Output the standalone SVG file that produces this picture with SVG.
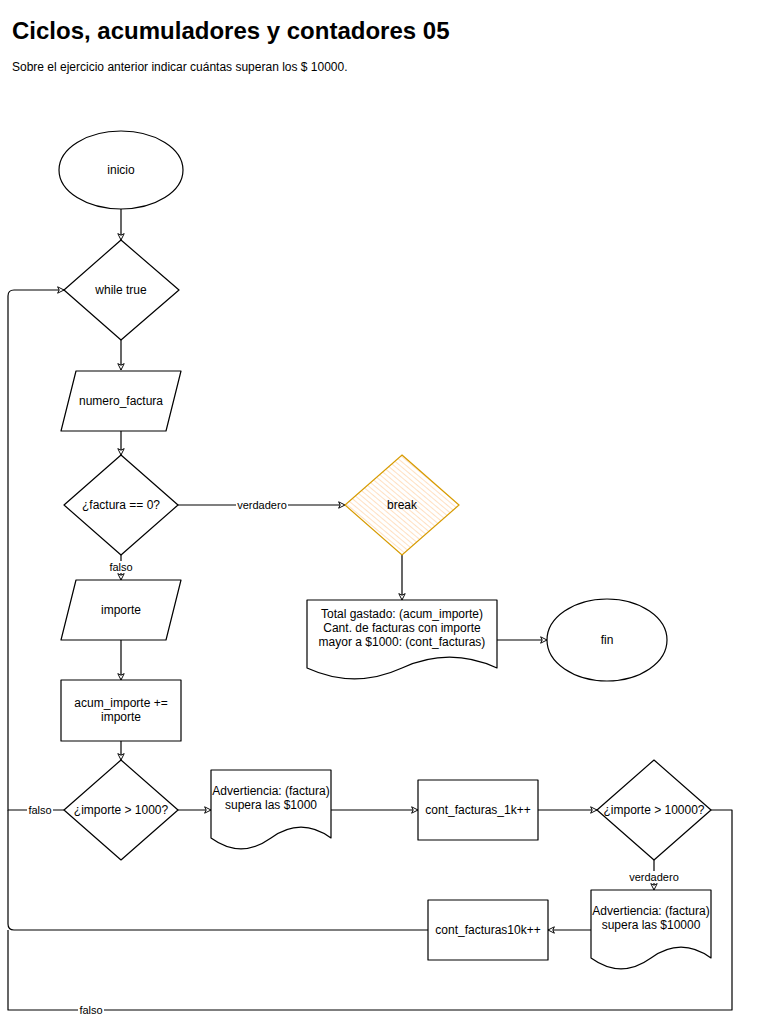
<svg xmlns="http://www.w3.org/2000/svg" width="768" height="1019" viewBox="0 0 768 1019">
  <style>
    .shape { fill: #ffffff; stroke: #000000; stroke-width: 1.2; stroke-linejoin: round; }
    .warn { fill: url(#hatch); stroke: #d79b00; stroke-width: 1.2; }
    .edge { fill: none; stroke: #000000; stroke-width: 1.2; stroke-linejoin: round; }
    .txt { font-family: "Liberation Sans", Arial, sans-serif; font-size: 12px; fill: #000000; text-anchor: middle; dominant-baseline: central; }
    .lbl { font-family: "Liberation Sans", Arial, sans-serif; font-size: 11px; fill: #000000; text-anchor: middle; dominant-baseline: central; }
    .lblbg { fill: #ffffff; stroke: none; }
  </style>
  <defs>
    <marker id="arrow" viewBox="0 0 10 10" refX="9" refY="5" markerWidth="8" markerHeight="8" markerUnits="userSpaceOnUse" orient="auto">
      <path d="M1,1 L9,5 L1,9 L3,5 Z" fill="#ffffff" stroke="#000000" stroke-width="1.2"/>
    </marker>
    <pattern id="hatch" width="4" height="4" patternUnits="userSpaceOnUse" patternTransform="rotate(-50)">
      <rect width="4" height="4" fill="#ffffff"/>
      <line x1="0" y1="0" x2="0" y2="4" stroke="#ffd9b3" stroke-width="1.6"/>
    </pattern>
  </defs>

  <rect width="768" height="1019" fill="#ffffff"/>

  <text x="12" y="30" font-family="'Liberation Sans', Arial, sans-serif" font-size="24" font-weight="bold" dominant-baseline="central">Ciclos, acumuladores y contadores 05</text>
  <text x="12" y="67" font-family="'Liberation Sans', Arial, sans-serif" font-size="12" dominant-baseline="central">Sobre el ejercicio anterior indicar cuántas superan los $ 10000.</text>

  <!-- connectors -->
  <g id="connectors">
    <path class="edge" d="M121,209 L121,240" marker-end="url(#arrow)"/>
    <path class="edge" d="M121,340 L121,370" marker-end="url(#arrow)"/>
    <path class="edge" d="M121,431 L121,455" marker-end="url(#arrow)"/>
    <path class="edge" d="M178,505 L345,505" marker-end="url(#arrow)"/>
    <path class="edge" d="M121,555 L121,580" marker-end="url(#arrow)"/>
    <path class="edge" d="M402,555 L402,600" marker-end="url(#arrow)"/>
    <path class="edge" d="M497,640 L547,640" marker-end="url(#arrow)"/>
    <path class="edge" d="M121,640 L121,680" marker-end="url(#arrow)"/>
    <path class="edge" d="M121,741 L121,760" marker-end="url(#arrow)"/>
    <path class="edge" d="M178,810 L211,810" marker-end="url(#arrow)"/>
    <path class="edge" d="M331,810 L418,810" marker-end="url(#arrow)"/>
    <path class="edge" d="M538,810 L597,810" marker-end="url(#arrow)"/>
    <path class="edge" d="M654,860 L654,890" marker-end="url(#arrow)"/>
    <path class="edge" d="M591,930 L548,930" marker-end="url(#arrow)"/>
    <!-- return paths to the loop head -->
    <path class="edge" d="M64,810 L8,810 L8,296 Q8,290 14,290 L64,290" marker-end="url(#arrow)"/>
    <path class="edge" d="M428,930 L14,930 Q8,930 8,924 L8,810"/>
    <path class="edge" d="M711,810 L732,810 L732,1010 L8,1010 L8,930"/>

    <rect class="lblbg" x="236" y="499" width="52" height="12"/>
    <text class="lbl" x="262" y="505">verdadero</text>
    <rect class="lblbg" x="108" y="561" width="26" height="12"/>
    <text class="lbl" x="121" y="567">falso</text>
    <rect class="lblbg" x="27" y="804" width="26" height="12"/>
    <text class="lbl" x="40" y="810">falso</text>
    <rect class="lblbg" x="628" y="871" width="52" height="12"/>
    <text class="lbl" x="654" y="877">verdadero</text>
    <rect class="lblbg" x="78" y="1004" width="26" height="12"/>
    <text class="lbl" x="91" y="1010">falso</text>
  </g>

  <g id="inicio">
    <ellipse class="shape" cx="121" cy="170" rx="62" ry="39"/>
    <text class="txt" x="121" y="170">inicio</text>
  </g>

  <g id="while-true">
    <path class="shape" d="M121,240 L179,290 L121,340 L64,290 Z"/>
    <text class="txt" x="121" y="290">while true</text>
  </g>

  <g id="numero-factura">
    <path class="shape" d="M76,371 L181,371 L166,431 L61,431 Z"/>
    <text class="txt" x="121" y="401">numero_factura</text>
  </g>

  <g id="factura-cero">
    <path class="shape" d="M121,455 L178,505 L121,555 L64,505 Z"/>
    <text class="txt" x="121" y="505">¿factura == 0?</text>
  </g>

  <g id="break">
    <path class="warn" d="M402,455 L459,505 L402,555 L345,505 Z"/>
    <text class="txt" x="402" y="505">break</text>
  </g>

  <g id="importe">
    <path class="shape" d="M76,580 L181,580 L166,640 L61,640 Z"/>
    <text class="txt" x="121" y="610">importe</text>
  </g>

  <g id="total-gastado">
    <path class="shape" d="M307,600 L497,600 L497,668 Q449.5,646.4 402,668 Q354.5,689.6 307,668 Z"/>
    <text class="txt" x="402" y="614">Total gastado: (acum_importe)</text>
    <text class="txt" x="402" y="628">Cant. de facturas con importe</text>
    <text class="txt" x="402" y="642">mayor a $1000: (cont_facturas)</text>
  </g>

  <g id="fin">
    <ellipse class="shape" cx="607" cy="640" rx="60" ry="41"/>
    <text class="txt" x="607" y="640">fin</text>
  </g>

  <g id="acum-importe">
    <rect class="shape" x="61" y="680" width="120" height="61"/>
    <text class="txt" x="121" y="703">acum_importe +=</text>
    <text class="txt" x="121" y="717">importe</text>
  </g>

  <g id="importe-1000">
    <path class="shape" d="M121,760 L178,810 L121,860 L64,810 Z"/>
    <text class="txt" x="121" y="810">¿importe &gt; 1000?</text>
  </g>

  <g id="advertencia-1000">
    <path class="shape" d="M211,770 L331,770 L331,838 Q301,816.4 271,838 Q241,859.6 211,838 Z"/>
    <text class="txt" x="271" y="791">Advertiencia: (factura)</text>
    <text class="txt" x="271" y="805">supera las $1000</text>
  </g>

  <g id="cont-facturas-1k">
    <rect class="shape" x="418" y="780" width="120" height="60"/>
    <text class="txt" x="478" y="810">cont_facturas_1k++</text>
  </g>

  <g id="importe-10000">
    <path class="shape" d="M654,760 L711,810 L654,860 L597,810 Z"/>
    <text class="txt" x="654" y="810">¿importe &gt; 10000?</text>
  </g>

  <g id="advertencia-10000">
    <path class="shape" d="M591,890 L711,890 L711,958 Q681,936.4 651,958 Q621,979.6 591,958 Z"/>
    <text class="txt" x="651" y="911">Advertiencia: (factura)</text>
    <text class="txt" x="651" y="925">supera las $10000</text>
  </g>

  <g id="cont-facturas-10k">
    <rect class="shape" x="428" y="900" width="120" height="60"/>
    <text class="txt" x="488" y="930">cont_facturas10k++</text>
  </g>
</svg>
